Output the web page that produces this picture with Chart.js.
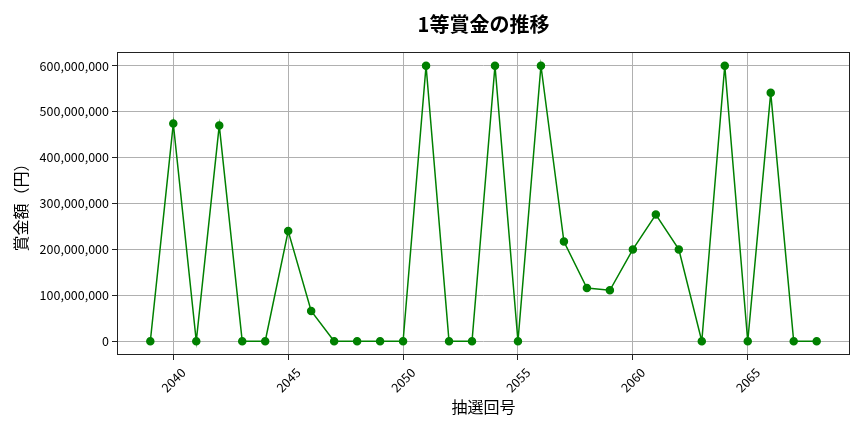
<!DOCTYPE html>
<html>
<head>
<meta charset="utf-8">
<script src="https://cdn.jsdelivr.net/npm/chart.js@4"></script>
<style>
  html, body { margin: 0; padding: 0; background: #fff; }
  #wrap { width: 864px; height: 432px; }
</style>
</head>
<body>
<div id="wrap"><canvas id="prize-chart"></canvas></div>
<script>
// 抽選回号と1等賞金
const draws = [2039, 2040, 2041, 2042, 2043, 2044, 2045, 2046, 2047, 2048,
               2049, 2050, 2051, 2052, 2053, 2054, 2055, 2056, 2057, 2058,
               2059, 2060, 2061, 2062, 2063, 2064, 2065, 2066, 2067, 2068];
const prizes = [0, 474000000, 0, 470000000, 0, 0, 240000000, 66000000, 0, 0,
                0, 0, 600000000, 0, 0, 600000000, 0, 600000000, 217000000, 116000000,
                111000000, 200000000, 276000000, 200000000, 0, 600000000, 0, 541000000, 0, 0];
const xTicks = [2040, 2045, 2050, 2055, 2060, 2065];
const yTicks = [0, 100000000, 200000000, 300000000, 400000000, 500000000, 600000000];

const FONT = "'Noto Sans CJK JP', 'Noto Sans', sans-serif";

// matplotlib風の枠とタイトル
const frame = {
  id: 'frame',
  afterDraw(chart) {
    const a = chart.chartArea;
    const ctx = chart.ctx;
    ctx.save();
    ctx.strokeStyle = '#222';
    ctx.lineWidth = 1;
    ctx.strokeRect(a.left + 0.5, a.top + 0.5, a.right - a.left - 1, a.bottom - a.top - 1);
    ctx.fillStyle = '#000';
    ctx.font = 'bold 20px ' + FONT;
    ctx.textAlign = 'center';
    ctx.textBaseline = 'middle';
    ctx.fillText('1等賞金の推移', (a.left + a.right) / 2, 24);
    ctx.restore();
  }
};

const points = draws.map((d, i) => ({ x: d, y: prizes[i] }));

const ctx = document.getElementById('prize-chart').getContext('2d');
const prizeChart = new Chart(ctx, {
  type: 'line',
  data: {
    datasets: [{
      label: '1等賞金',
      data: points,
      borderColor: '#008000',
      backgroundColor: '#008000',
      borderWidth: 1.5,
      pointRadius: 3.5,
      pointHoverRadius: 3.5,
      tension: 0
    }]
  },
  options: {
    responsive: true,
    maintainAspectRatio: false,
    animation: false,
    devicePixelRatio: 1,
    layout: { padding: { top: 52, right: 14, left: 0, bottom: 0 } },
    plugins: {
      legend: { display: false },
      tooltip: { enabled: false }
    },
    scales: {
      x: {
        type: 'linear',
        min: 2037.55,
        max: 2069.45,
        afterBuildTicks: s => { s.ticks = xTicks.map(v => ({ value: v })); },
        afterFit: s => { s.height = 77; },
        grid: { color: '#b0b0b0', tickColor: '#222', tickLength: 5 },
        border: { display: false },
        ticks: {
          font: { family: FONT, size: 12.5 },
          color: '#000',
          minRotation: 45,
          maxRotation: 45,
          labelOffset: 10,
          padding: 5,
          callback: v => String(v)
        },
        title: {
          display: true,
          text: '抽選回号',
          font: { family: FONT, size: 16 },
          color: '#000',
          padding: { top: 0, bottom: 15 }
        }
      },
      y: {
        min: -30000000,
        max: 630000000,
        afterBuildTicks: s => { s.ticks = yTicks.map(v => ({ value: v })); },
        afterFit: s => { s.width = 117; },
        grid: { color: '#b0b0b0', tickColor: '#222', tickLength: 5 },
        border: { display: false },
        ticks: {
          font: { family: FONT, size: 12.5 },
          color: '#000',
          padding: 3,
          callback: v => v.toLocaleString('en-US')
        },
        title: {
          display: true,
          text: '賞金額（円）',
          font: { family: FONT, size: 16 },
          color: '#000',
          padding: { top: 11, bottom: 0 }
        }
      }
    }
  },
  plugins: [frame]
});
</script>
</body>
</html>
